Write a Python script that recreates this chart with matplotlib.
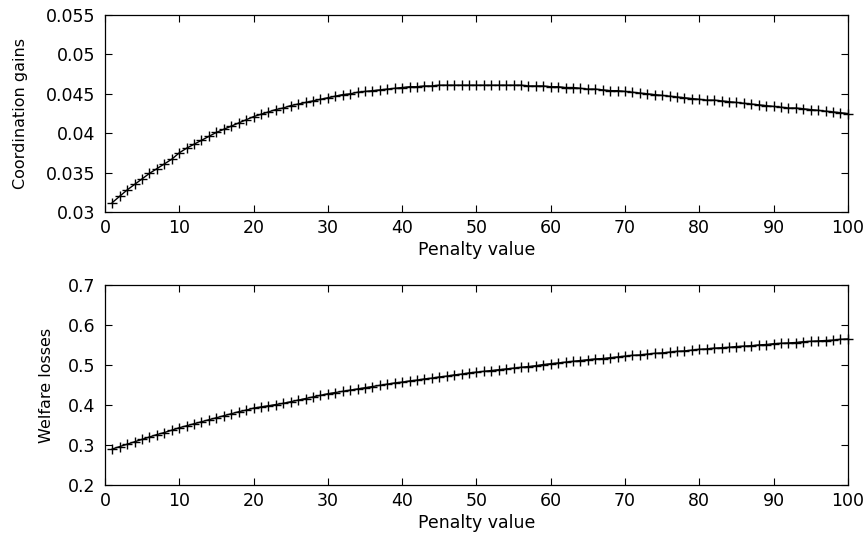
import matplotlib
matplotlib.use("Agg")
import matplotlib.pyplot as plt
import numpy as np

# Penalty values 1..100
penalty = list(range(1, 101))

coord_gains = [
    0.0312, 0.0320, 0.0328, 0.0335, 0.0342, 0.0349, 0.0355, 0.0361, 0.0367, 0.0375,
    0.0381, 0.0386, 0.0391, 0.0396, 0.0401, 0.0405, 0.0409, 0.0413, 0.0417, 0.0421,
    0.0424, 0.0427, 0.0430, 0.0432, 0.0435, 0.0437, 0.0439, 0.0441, 0.0443, 0.0445,
    0.0447, 0.0449, 0.0450, 0.0452, 0.0453, 0.0454, 0.0455, 0.0456, 0.0457, 0.0458,
    0.0459, 0.0459, 0.0460, 0.0460, 0.0461, 0.0461, 0.0461, 0.0461, 0.0461, 0.0461,
    0.0461, 0.0461, 0.0461, 0.0461, 0.0461, 0.0461, 0.0460, 0.0460, 0.0460, 0.0459,
    0.0459, 0.0458, 0.0458, 0.0457, 0.0456, 0.0456, 0.0455, 0.0454, 0.0454, 0.0453,
    0.0452, 0.0451, 0.0450, 0.0449, 0.0448, 0.0447, 0.0446, 0.0445, 0.0444, 0.0443,
    0.0442, 0.0442, 0.0441, 0.0440, 0.0439, 0.0438, 0.0437, 0.0436, 0.0435, 0.0434,
    0.0433, 0.0432, 0.0432, 0.0431, 0.0430, 0.0429, 0.0428, 0.0427, 0.0426, 0.0425,
]

welfare_losses = [
    0.290, 0.296, 0.302, 0.308, 0.314, 0.320, 0.326, 0.331, 0.337, 0.343,
    0.348, 0.353, 0.358, 0.363, 0.368, 0.373, 0.378, 0.383, 0.387, 0.392,
    0.395, 0.398, 0.401, 0.404, 0.408, 0.412, 0.416, 0.420, 0.424, 0.428,
    0.431, 0.434, 0.437, 0.440, 0.443, 0.446, 0.449, 0.452, 0.455, 0.457,
    0.460, 0.462, 0.465, 0.467, 0.470, 0.472, 0.475, 0.477, 0.480, 0.482,
    0.484, 0.486, 0.488, 0.490, 0.492, 0.494, 0.496, 0.498, 0.501, 0.503,
    0.505, 0.507, 0.509, 0.511, 0.513, 0.515, 0.516, 0.518, 0.520, 0.522,
    0.524, 0.525, 0.527, 0.529, 0.530, 0.532, 0.534, 0.535, 0.537, 0.539,
    0.540, 0.542, 0.543, 0.544, 0.546, 0.547, 0.548, 0.550, 0.551, 0.553,
    0.554, 0.555, 0.556, 0.558, 0.559, 0.560, 0.561, 0.562, 0.564, 0.565,
]

x_ticks = [0, 10, 20, 30, 40, 50, 60, 70, 80, 90, 100]
top_yticks = [0.03, 0.035, 0.04, 0.045, 0.05, 0.055]
top_ylabels = ["0.03", "0.035", "0.04", "0.045", "0.05", "0.055"]
bot_yticks = [0.2, 0.3, 0.4, 0.5, 0.6, 0.7]
bot_ylabels = ["0.2", "0.3", "0.4", "0.5", "0.6", "0.7"]

plt.rcParams["font.family"] = ["DejaVu Sans"]

fig = plt.figure(figsize=(8.67, 5.38), dpi=100)
ax1 = fig.add_axes([0.121, 0.606, 0.857, 0.366])
ax2 = fig.add_axes([0.121, 0.0985, 0.857, 0.372])


def style(ax, yticks, ylabels, ylabel, ypad):
    ax.set_xlim(0, 100)
    ax.set_ylim(yticks[0], yticks[-1])
    ax.set_xticks(x_ticks)
    ax.set_xticklabels([str(t) for t in x_ticks])
    ax.set_yticks(yticks)
    ax.set_yticklabels(ylabels)
    ax.tick_params(direction="in", top=True, right=True, length=5, width=0.8,
                   labelsize=12.5, colors="black")
    ax.tick_params(axis="x", pad=5)
    ax.tick_params(axis="y", pad=7)
    for s in ax.spines.values():
        s.set_linewidth(0.9)
    ax.set_xlabel("Penalty value", fontsize=12.5, labelpad=3)
    ax.set_ylabel(ylabel, fontsize=11.5, labelpad=ypad)


ax1.plot(penalty, coord_gains, color="black", marker="+", markersize=7,
         markeredgewidth=1.0, linewidth=1.0, clip_on=False)
style(ax1, top_yticks, top_ylabels, "Coordination gains", 12.5)

ax2.plot(penalty, welfare_losses, color="black", marker="+", markersize=7,
         markeredgewidth=1.0, linewidth=1.0, clip_on=False)
style(ax2, bot_yticks, bot_ylabels, "Welfare losses", 9.5)

fig.savefig("out.png", dpi=100)
